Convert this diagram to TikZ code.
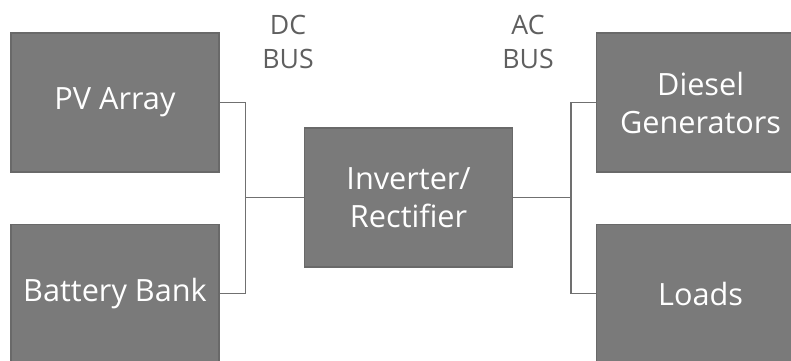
\documentclass[tikz,border=0pt]{standalone}
\usepackage{fontspec}
\setmainfont{Open Sans}
\usetikzlibrary{positioning}
\definecolor{boxgrey}{RGB}{122, 122, 122}
\definecolor{edgegrey}{RGB}{105, 105, 105}
\definecolor{wiregrey}{RGB}{112, 112, 112}
\definecolor{labelgrey}{RGB}{95, 95, 95}

\begin{document}
\begin{tikzpicture}[
    x=0.75pt, y=-0.75pt,
    node distance=38.25pt and 63.75pt,
    unit/.style={
        draw=edgegrey,
        fill=boxgrey,
        line width=0.9pt,
        minimum width=156pt,
        minimum height=104.25pt,
        align=center,
        text=white,
        inner sep=0pt,
        font=\fontsize{23}{28.5}\selectfont
    },
    buslabel/.style={
        align=center,
        text=labelgrey,
        font=\fontsize{20}{25}\selectfont
    },
    wire/.style={
        draw=wiregrey,
        line width=1pt
    }
]

    \clip (0,0) rectangle (791,360);

    % DC side
    \node[unit] (pv) at (115,102.5) {PV Array};
    \node[unit, below=of pv] (bat) {Battery Bank};

    % Converter
    \node[unit, anchor=west] (inv) at (304,197.5) {Inverter/\\Rectifier};

    % AC side
    \node[unit, anchor=west] (gen) at (596,102.5) {Diesel\\Generators};
    \node[unit, below=of gen] (load) {Loads};

    % Bus labels
    \node[buslabel] (dclabel) at (288,42) {DC\\BUS};
    \node[buslabel] (aclabel) at (528,42) {AC\\BUS};

    % Bus lines
    \coordinate (dcbus) at ([xshift=19.5pt]pv.east);
    \coordinate (acbus) at ([xshift=-18.75pt]gen.west);

    \draw[wire] (pv.east) -- (dcbus) -- (dcbus |- bat.east) -- (bat.east);
    \draw[wire] (inv.west) -- (inv.west -| dcbus);

    \draw[wire] (gen.west) -- (acbus) -- (acbus |- load.west) -- (load.west);
    \draw[wire] (inv.east) -- (inv.east -| acbus);

\end{tikzpicture}
\end{document}
